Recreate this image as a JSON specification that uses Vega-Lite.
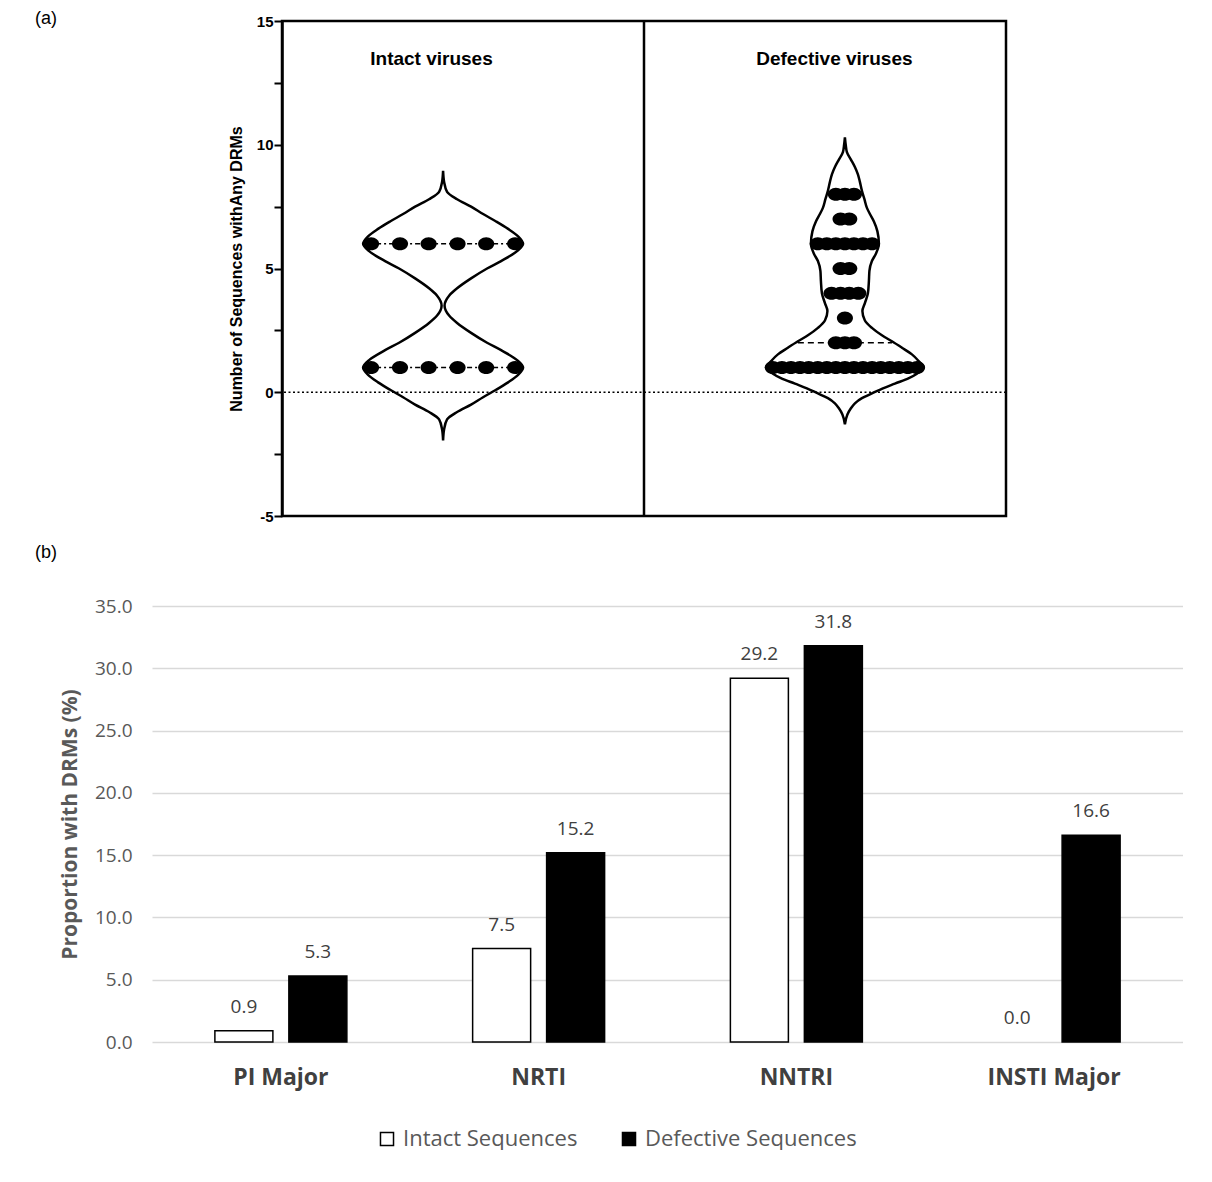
{
  "$schema": "https://vega.github.io/schema/vega-lite/v6.json",
  "background": "white",
  "padding": {"left": 35, "top": 9, "right": 0, "bottom": 0},
  "title": {"text": "(a)", "anchor": "start", "frame": "bounds", "offset": -15, "fontSize": 18, "fontWeight": "normal", "font": "Liberation Sans", "color": "black"},
  "spacing": 18,
  "resolve": {"scale": {"fill": "independent"}, "legend": {"fill": "independent"}},
  "datasets": {
    "violin": [
      {"g": "Intact", "v": 8.95, "xl": 0.445, "xr": 0.445},
      {"g": "Intact", "v": 8.5, "xl": 0.4422, "xr": 0.4478},
      {"g": "Intact", "v": 8.1, "xl": 0.434, "xr": 0.456},
      {"g": "Intact", "v": 7.8, "xl": 0.4063, "xr": 0.4837},
      {"g": "Intact", "v": 7.5, "xl": 0.3677, "xr": 0.5223},
      {"g": "Intact", "v": 7.2, "xl": 0.3345, "xr": 0.5555},
      {"g": "Intact", "v": 6.9, "xl": 0.2986, "xr": 0.5914},
      {"g": "Intact", "v": 6.6, "xl": 0.2654, "xr": 0.6246},
      {"g": "Intact", "v": 6.3, "xl": 0.2378, "xr": 0.6522},
      {"g": "Intact", "v": 6.0, "xl": 0.224, "xr": 0.666},
      {"g": "Intact", "v": 5.7, "xl": 0.2406, "xr": 0.6494},
      {"g": "Intact", "v": 5.3, "xl": 0.2848, "xr": 0.6052},
      {"g": "Intact", "v": 5.0, "xl": 0.3235, "xr": 0.5665},
      {"g": "Intact", "v": 4.6, "xl": 0.3677, "xr": 0.5223},
      {"g": "Intact", "v": 4.2, "xl": 0.4063, "xr": 0.4837},
      {"g": "Intact", "v": 3.9, "xl": 0.4284, "xr": 0.4616},
      {"g": "Intact", "v": 3.5, "xl": 0.4409, "xr": 0.4491},
      {"g": "Intact", "v": 3.1, "xl": 0.4284, "xr": 0.4616},
      {"g": "Intact", "v": 2.8, "xl": 0.4063, "xr": 0.4837},
      {"g": "Intact", "v": 2.4, "xl": 0.3677, "xr": 0.5223},
      {"g": "Intact", "v": 2.0, "xl": 0.3235, "xr": 0.5665},
      {"g": "Intact", "v": 1.7, "xl": 0.2848, "xr": 0.6052},
      {"g": "Intact", "v": 1.3, "xl": 0.2406, "xr": 0.6494},
      {"g": "Intact", "v": 1.0, "xl": 0.224, "xr": 0.666},
      {"g": "Intact", "v": 0.7, "xl": 0.2378, "xr": 0.6522},
      {"g": "Intact", "v": 0.4, "xl": 0.2654, "xr": 0.6246},
      {"g": "Intact", "v": 0.1, "xl": 0.2986, "xr": 0.5914},
      {"g": "Intact", "v": -0.2, "xl": 0.3345, "xr": 0.5555},
      {"g": "Intact", "v": -0.5, "xl": 0.3677, "xr": 0.5223},
      {"g": "Intact", "v": -0.8, "xl": 0.4063, "xr": 0.4837},
      {"g": "Intact", "v": -1.1, "xl": 0.434, "xr": 0.456},
      {"g": "Intact", "v": -1.5, "xl": 0.4422, "xr": 0.4478},
      {"g": "Intact", "v": -1.95, "xl": 0.445, "xr": 0.445},
      {"g": "Defective", "v": 10.3, "xl": 1.555, "xr": 1.555},
      {"g": "Defective", "v": 10.0, "xl": 1.5528, "xr": 1.5572},
      {"g": "Defective", "v": 9.7, "xl": 1.5495, "xr": 1.5605},
      {"g": "Defective", "v": 9.4, "xl": 1.5384, "xr": 1.5716},
      {"g": "Defective", "v": 9.1, "xl": 1.5274, "xr": 1.5826},
      {"g": "Defective", "v": 8.8, "xl": 1.5191, "xr": 1.5909},
      {"g": "Defective", "v": 8.5, "xl": 1.5136, "xr": 1.5964},
      {"g": "Defective", "v": 8.14, "xl": 1.508, "xr": 1.602},
      {"g": "Defective", "v": 7.8, "xl": 1.5011, "xr": 1.6089},
      {"g": "Defective", "v": 7.45, "xl": 1.4942, "xr": 1.6158},
      {"g": "Defective", "v": 7.2, "xl": 1.4859, "xr": 1.6241},
      {"g": "Defective", "v": 6.9, "xl": 1.4749, "xr": 1.6351},
      {"g": "Defective", "v": 6.5, "xl": 1.4652, "xr": 1.6448},
      {"g": "Defective", "v": 6.0, "xl": 1.4611, "xr": 1.6489},
      {"g": "Defective", "v": 5.6, "xl": 1.4694, "xr": 1.6406},
      {"g": "Defective", "v": 5.3, "xl": 1.4804, "xr": 1.6296},
      {"g": "Defective", "v": 4.9, "xl": 1.4873, "xr": 1.6227},
      {"g": "Defective", "v": 4.5, "xl": 1.4887, "xr": 1.6213},
      {"g": "Defective", "v": 4.0, "xl": 1.4915, "xr": 1.6185},
      {"g": "Defective", "v": 3.6, "xl": 1.4998, "xr": 1.6102},
      {"g": "Defective", "v": 3.28, "xl": 1.5067, "xr": 1.6033},
      {"g": "Defective", "v": 2.9, "xl": 1.4998, "xr": 1.6102},
      {"g": "Defective", "v": 2.6, "xl": 1.4804, "xr": 1.6296},
      {"g": "Defective", "v": 2.3, "xl": 1.4528, "xr": 1.6572},
      {"g": "Defective", "v": 2.06, "xl": 1.4252, "xr": 1.6848},
      {"g": "Defective", "v": 1.8, "xl": 1.3975, "xr": 1.7125},
      {"g": "Defective", "v": 1.53, "xl": 1.3699, "xr": 1.7401},
      {"g": "Defective", "v": 1.25, "xl": 1.3506, "xr": 1.7594},
      {"g": "Defective", "v": 1.0, "xl": 1.3368, "xr": 1.7732},
      {"g": "Defective", "v": 0.75, "xl": 1.3561, "xr": 1.7539},
      {"g": "Defective", "v": 0.57, "xl": 1.3782, "xr": 1.7318},
      {"g": "Defective", "v": 0.35, "xl": 1.4169, "xr": 1.6931},
      {"g": "Defective", "v": 0.16, "xl": 1.45, "xr": 1.66},
      {"g": "Defective", "v": -0.05, "xl": 1.4804, "xr": 1.6296},
      {"g": "Defective", "v": -0.24, "xl": 1.508, "xr": 1.602},
      {"g": "Defective", "v": -0.45, "xl": 1.5274, "xr": 1.5826},
      {"g": "Defective", "v": -0.65, "xl": 1.5384, "xr": 1.5716},
      {"g": "Defective", "v": -0.9, "xl": 1.5481, "xr": 1.5619},
      {"g": "Defective", "v": -1.3, "xl": 1.555, "xr": 1.555}
    ],
    "dots": [
      {"g": "Intact", "v": 6, "x": 0.246}, {"g": "Intact", "v": 6, "x": 0.326}, {"g": "Intact", "v": 6, "x": 0.405},
      {"g": "Intact", "v": 6, "x": 0.485}, {"g": "Intact", "v": 6, "x": 0.564}, {"g": "Intact", "v": 6, "x": 0.644},
      {"g": "Intact", "v": 1, "x": 0.246}, {"g": "Intact", "v": 1, "x": 0.326}, {"g": "Intact", "v": 1, "x": 0.405},
      {"g": "Intact", "v": 1, "x": 0.485}, {"g": "Intact", "v": 1, "x": 0.564}, {"g": "Intact", "v": 1, "x": 0.644},
      {"g": "Defective", "v": 8, "x": 1.530}, {"g": "Defective", "v": 8, "x": 1.555}, {"g": "Defective", "v": 8, "x": 1.580},
      {"g": "Defective", "v": 7, "x": 1.543}, {"g": "Defective", "v": 7, "x": 1.567},
      {"g": "Defective", "v": 6, "x": 1.480}, {"g": "Defective", "v": 6, "x": 1.505}, {"g": "Defective", "v": 6, "x": 1.530},
      {"g": "Defective", "v": 6, "x": 1.555}, {"g": "Defective", "v": 6, "x": 1.580}, {"g": "Defective", "v": 6, "x": 1.605},
      {"g": "Defective", "v": 6, "x": 1.630},
      {"g": "Defective", "v": 5, "x": 1.543}, {"g": "Defective", "v": 5, "x": 1.567},
      {"g": "Defective", "v": 4, "x": 1.518}, {"g": "Defective", "v": 4, "x": 1.543}, {"g": "Defective", "v": 4, "x": 1.567},
      {"g": "Defective", "v": 4, "x": 1.592},
      {"g": "Defective", "v": 3, "x": 1.555},
      {"g": "Defective", "v": 2, "x": 1.530}, {"g": "Defective", "v": 2, "x": 1.555}, {"g": "Defective", "v": 2, "x": 1.580},
      {"g": "Defective", "v": 1, "x": 1.356}, {"g": "Defective", "v": 1, "x": 1.381}, {"g": "Defective", "v": 1, "x": 1.406},
      {"g": "Defective", "v": 1, "x": 1.431}, {"g": "Defective", "v": 1, "x": 1.455}, {"g": "Defective", "v": 1, "x": 1.480},
      {"g": "Defective", "v": 1, "x": 1.505}, {"g": "Defective", "v": 1, "x": 1.530}, {"g": "Defective", "v": 1, "x": 1.555},
      {"g": "Defective", "v": 1, "x": 1.580}, {"g": "Defective", "v": 1, "x": 1.605}, {"g": "Defective", "v": 1, "x": 1.630},
      {"g": "Defective", "v": 1, "x": 1.654}, {"g": "Defective", "v": 1, "x": 1.679}, {"g": "Defective", "v": 1, "x": 1.704},
      {"g": "Defective", "v": 1, "x": 1.729}, {"g": "Defective", "v": 1, "x": 1.754}
    ],
    "quartiles": [
      {"g": "Intact", "v": 6, "x1": 0.224, "x2": 0.666},
      {"g": "Intact", "v": 1, "x1": 0.224, "x2": 0.666}
    ],
    "medians": [
      {"g": "Defective", "v": 2, "x1": 1.425, "x2": 1.685}
    ],
    "panelLabels": [
      {"label": "Intact viruses", "x": 0.413, "v": 13.45},
      {"label": "Defective viruses", "x": 1.526, "v": 13.45}
    ],
    "bars": [
      {"cat": "PI Major", "series": "Intact Sequences", "value": 0.9},
      {"cat": "PI Major", "series": "Defective Sequences", "value": 5.3},
      {"cat": "NRTI", "series": "Intact Sequences", "value": 7.5},
      {"cat": "NRTI", "series": "Defective Sequences", "value": 15.2},
      {"cat": "NNTRI", "series": "Intact Sequences", "value": 29.2},
      {"cat": "NNTRI", "series": "Defective Sequences", "value": 31.8},
      {"cat": "INSTI Major", "series": "Intact Sequences", "value": 0.0},
      {"cat": "INSTI Major", "series": "Defective Sequences", "value": 16.6}
    ]
  },
  "vconcat": [
    {
      "spacing": 0,
      "hconcat": [
        {
          "width": 75,
          "height": 495,
          "view": {"stroke": null},
          "data": {"values": [{}]},
          "mark": {"type": "point", "opacity": 0}
        },
        {
          "width": 724,
          "height": 495,
          "view": {"stroke": "black", "strokeWidth": 2.5},
          "layer": [
            {
              "data": {"name": "violin"},
              "mark": {"type": "area", "orient": "horizontal", "fill": "white", "stroke": "black", "strokeWidth": 2.5, "interpolate": "monotone"},
              "encoding": {
                "y": {"field": "v", "type": "quantitative",
                  "scale": {"domain": [-5, 15], "nice": false, "zero": false},
                  "axis": {"values": [-5, -2.5, 0, 2.5, 5, 7.5, 10, 12.5, 15],
                    "labelExpr": "datum.value % 5 === 0 ? '' + datum.value : ''",
                    "title": "Number of Sequences withAny DRMs",
                    "titleFont": "Liberation Sans", "titleFontSize": 16, "titleFontWeight": "bold", "titleColor": "black", "titlePadding": 12,
                    "labelFont": "Liberation Sans", "labelFontSize": 15, "labelFontWeight": "bold", "labelColor": "black", "labelPadding": 1,
                    "grid": false, "domainColor": "black", "domainWidth": 2.5, "tickColor": "black", "tickWidth": 2, "tickSize": 8}},
                "x": {"field": "xl", "type": "quantitative", "scale": {"domain": [0, 2], "nice": false, "zero": false}, "axis": null},
                "x2": {"field": "xr"},
                "detail": {"field": "g"}
              }
            },
            {
              "data": {"values": [{}]},
              "mark": {"type": "rule", "color": "black", "strokeWidth": 1.6, "strokeDash": [2, 2.5]},
              "encoding": {"y": {"datum": 0}}
            },
            {
              "data": {"values": [{}]},
              "mark": {"type": "rule", "color": "black", "strokeWidth": 2.5},
              "encoding": {"x": {"datum": 1}}
            },
            {
              "data": {"name": "quartiles"},
              "mark": {"type": "rule", "color": "black", "strokeWidth": 1.5, "strokeDash": [5, 3, 2, 3]},
              "encoding": {
                "y": {"field": "v", "type": "quantitative"},
                "x": {"field": "x1", "type": "quantitative"},
                "x2": {"field": "x2"}
              }
            },
            {
              "data": {"name": "medians"},
              "mark": {"type": "rule", "color": "black", "strokeWidth": 1.5, "strokeDash": [6, 4]},
              "encoding": {
                "y": {"field": "v", "type": "quantitative"},
                "x": {"field": "x1", "type": "quantitative"},
                "x2": {"field": "x2"}
              }
            },
            {
              "data": {"name": "dots"},
              "mark": {"type": "point", "filled": true, "color": "black", "opacity": 1, "size": 260,
                "shape": "M -1 0 A 1 0.82 0 1 0 1 0 A 1 0.82 0 1 0 -1 0 Z"},
              "encoding": {
                "y": {"field": "v", "type": "quantitative"},
                "x": {"field": "x", "type": "quantitative"}
              }
            },
            {
              "data": {"name": "panelLabels"},
              "mark": {"type": "text", "font": "Liberation Sans", "fontWeight": "bold", "fontSize": 19, "color": "black", "baseline": "middle", "align": "center"},
              "encoding": {
                "y": {"field": "v", "type": "quantitative"},
                "x": {"field": "x", "type": "quantitative"},
                "text": {"field": "label"}
              }
            }
          ]
        }
      ]
    },
    {
      "width": 1031,
      "height": 436,
      "view": {"stroke": null},
      "title": {"text": "(b)", "anchor": "start", "frame": "group", "dx": -117, "offset": 35, "fontSize": 18, "fontWeight": "normal", "font": "Liberation Sans", "color": "black"},
      "data": {"name": "bars"},
      "encoding": {
        "x": {"field": "cat", "type": "nominal", "sort": ["PI Major", "NRTI", "NNTRI", "INSTI Major"],
          "scale": {"paddingInner": 0, "paddingOuter": 0},
          "axis": {"title": null, "labelAngle": 0, "labelFont": "Open Sans", "labelFontSize": 23, "labelFontWeight": "bold", "labelColor": "#404040", "labelPadding": 24, "labelBaseline": "top", "domain": false, "ticks": false}},
        "xOffset": {"field": "series", "type": "nominal", "sort": ["Intact Sequences", "Defective Sequences"],
          "scale": {"paddingInner": 0.216, "paddingOuter": 0.85}},
        "y": {"field": "value", "type": "quantitative",
          "scale": {"domain": [0, 35], "nice": false},
          "axis": {"values": [0, 5, 10, 15, 20, 25, 30, 35], "format": ".1f",
            "title": "Proportion with DRMs (%)", "titleFont": "Open Sans", "titleFontSize": 21, "titleFontWeight": "bold", "titleColor": "#595959", "titlePadding": 14,
            "labelFont": "Open Sans", "labelFontSize": 19, "labelColor": "#595959", "labelPadding": 20,
            "domain": false, "ticks": false, "gridColor": "#d9d9d9", "gridWidth": 1.5}}
      },
      "layer": [
        {
          "mark": {"type": "bar", "stroke": "black", "strokeWidth": 1.5},
          "encoding": {
            "fill": {"field": "series", "type": "nominal",
              "scale": {"domain": ["Intact Sequences", "Defective Sequences"], "range": ["white", "black"]},
              "legend": {"orient": "none", "legendX": 224, "legendY": 522, "direction": "horizontal", "title": null,
                "symbolType": "square", "symbolSize": 170, "symbolStrokeColor": "black", "symbolStrokeWidth": 1.5,
                "labelFont": "Open Sans", "labelFontSize": 22, "labelColor": "#595959", "labelOffset": 5, "labelLimit": 400, "columnPadding": 40}},
            "strokeOpacity": {"condition": {"test": "datum.value > 0", "value": 1}, "value": 0}
          }
        },
        {
          "mark": {"type": "text", "font": "Open Sans", "fontSize": 19, "color": "#404040", "baseline": "alphabetic", "dy": -18},
          "encoding": {
            "text": {"field": "value", "type": "quantitative", "format": ".1f"}
          }
        }
      ]
    }
  ]
}
